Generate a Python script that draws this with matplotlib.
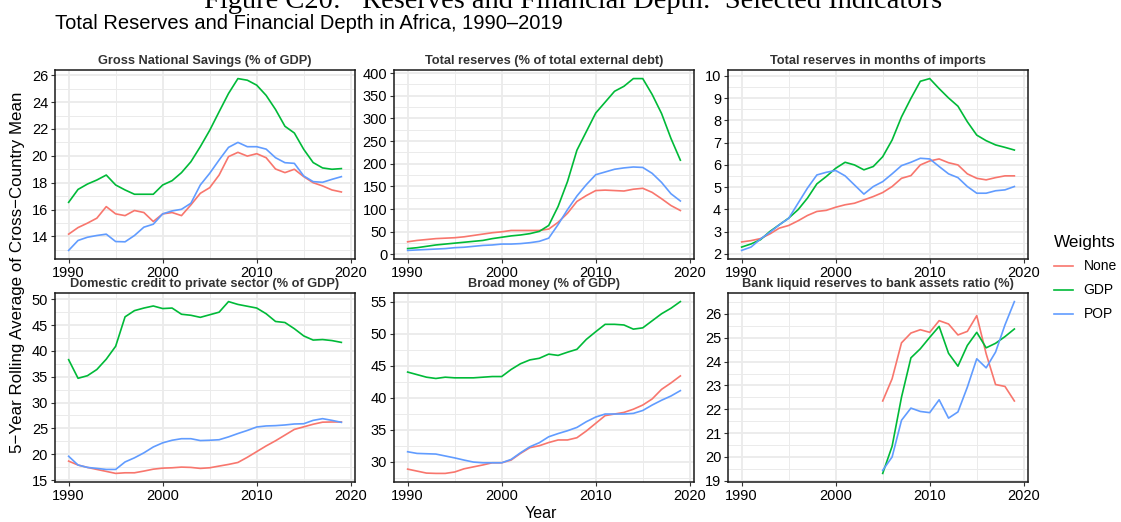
import matplotlib.pyplot as plt
import numpy as np
from matplotlib.lines import Line2D
from matplotlib.ticker import MultipleLocator

plt.rcParams["font.family"] = ["Liberation Sans", "DejaVu Sans"]

# ## Data (5-year rolling means of the cross-country average)

YEARS = list(range(1990, 2020))
LIQ_YEARS = list(range(2005, 2020))

GNS_NONE = [14.17, 14.66, 14.99, 15.36, 16.22, 15.68, 15.55, 15.93, 15.78, 15.11,
            15.68, 15.78, 15.55, 16.35, 17.21, 17.63, 18.57, 19.94, 20.26, 19.98,
            20.16, 19.86, 19.02, 18.75, 19.0, 18.45, 18.0, 17.76, 17.46, 17.31]
GNS_GDP = [16.54, 17.5, 17.9, 18.2, 18.57, 17.83, 17.46, 17.14, 17.14, 17.14,
           17.83, 18.15, 18.75, 19.56, 20.68, 21.9, 23.28, 24.64, 25.75, 25.63,
           25.26, 24.5, 23.45, 22.2, 21.7, 20.48, 19.5, 19.1, 19.0, 19.05]
GNS_POP = [12.96, 13.7, 13.94, 14.07, 14.17, 13.62, 13.6, 14.07, 14.69, 14.91,
           15.68, 15.9, 16.02, 16.47, 17.83, 18.7, 19.69, 20.63, 21.0, 20.68,
           20.68, 20.5, 19.86, 19.49, 19.44, 18.5, 18.08, 18.03, 18.25, 18.45]

RES_DEBT_NONE = [28, 31, 33, 35, 36, 37, 39, 42, 45, 48,
                 50, 53, 53, 53, 53, 56, 71, 91, 117, 130,
                 141, 142, 141, 140, 144, 146, 137, 123, 108, 97]
RES_DEBT_GDP = [13, 15, 18, 21, 23, 25, 27, 29, 31, 35,
                38, 41, 43, 46, 51, 64, 106, 161, 230, 271,
                312, 336, 360, 371, 388, 388, 353, 311, 256, 208]
RES_DEBT_POP = [9, 10, 11, 12, 13, 15, 16, 18, 20, 21,
                23, 23, 24, 26, 29, 36, 66, 99, 129, 154,
                176, 182, 188, 191, 193, 192, 179, 159, 134, 118]

RES_MONTHS_NONE = [2.54, 2.6, 2.69, 2.9, 3.16, 3.28, 3.49, 3.73, 3.91, 3.96,
                   4.1, 4.21, 4.28, 4.43, 4.58, 4.76, 5.03, 5.4, 5.52, 6.0,
                   6.18, 6.27, 6.1, 6.0, 5.6, 5.4, 5.33, 5.43, 5.51, 5.51]
RES_MONTHS_GDP = [2.31, 2.45, 2.64, 3.01, 3.31, 3.61, 3.99, 4.51, 5.15, 5.48,
                  5.85, 6.12, 6.0, 5.78, 5.93, 6.37, 7.12, 8.16, 8.99, 9.76,
                  9.88, 9.43, 9.01, 8.64, 7.94, 7.34, 7.09, 6.9, 6.79, 6.67]
RES_MONTHS_POP = [2.16, 2.31, 2.67, 2.97, 3.31, 3.6, 4.28, 4.96, 5.55, 5.67,
                  5.75, 5.51, 5.1, 4.69, 5.03, 5.25, 5.6, 5.97, 6.12, 6.3,
                  6.27, 5.93, 5.6, 5.43, 5.03, 4.73, 4.73, 4.84, 4.88, 5.03]

CREDIT_NONE = [18.66, 17.9, 17.44, 17.05, 16.67, 16.28, 16.4, 16.4, 16.73, 17.1,
               17.3, 17.37, 17.5, 17.44, 17.25, 17.37, 17.7, 18.02, 18.4, 19.4,
               20.5, 21.6, 22.6, 23.7, 24.8, 25.3, 25.8, 26.2, 26.24, 26.24]
CREDIT_GDP = [38.3, 34.7, 35.2, 36.4, 38.4, 40.9, 46.6, 47.8, 48.3, 48.7,
              48.2, 48.3, 47.1, 46.9, 46.5, 47.0, 47.5, 49.55, 49.0, 48.65,
              48.3, 47.2, 45.7, 45.5, 44.3, 42.9, 42.1, 42.2, 42.0, 41.65]
CREDIT_POP = [19.6, 17.9, 17.44, 17.25, 17.05, 17.05, 18.5, 19.3, 20.26, 21.4,
              22.2, 22.7, 23.0, 23.0, 22.64, 22.7, 22.8, 23.35, 24.0, 24.6,
              25.27, 25.47, 25.53, 25.66, 25.85, 25.9, 26.55, 26.88, 26.55, 26.17]

MONEY_NONE = [28.85, 28.54, 28.23, 28.18, 28.18, 28.4, 28.9, 29.2, 29.5, 29.84,
              29.84, 30.26, 31.3, 32.2, 32.5, 33.0, 33.4, 33.4, 33.75, 34.8,
              36.0, 37.2, 37.45, 37.7, 38.2, 38.85, 39.8, 41.3, 42.3, 43.4]
MONEY_GDP = [44.0, 43.6, 43.2, 43.0, 43.2, 43.1, 43.1, 43.1, 43.2, 43.3,
             43.3, 44.4, 45.3, 45.9, 46.15, 46.8, 46.6, 47.1, 47.55, 49.1,
             50.3, 51.45, 51.45, 51.35, 50.7, 50.9, 52.0, 53.1, 53.96, 55.0]
MONEY_POP = [31.56, 31.3, 31.25, 31.2, 30.9, 30.6, 30.26, 29.95, 29.84, 29.84,
             29.84, 30.36, 31.4, 32.34, 32.97, 33.9, 34.4, 34.84, 35.36, 36.25,
             36.98, 37.45, 37.45, 37.45, 37.55, 38.0, 38.85, 39.6, 40.26, 41.1]

LIQ_NONE = [22.35, 23.28, 24.79, 25.2, 25.34, 25.23, 25.72, 25.58, 25.12, 25.27,
            25.93, 24.33, 23.04, 22.96, 22.35]
LIQ_GDP = [19.31, 20.45, 22.51, 24.16, 24.54, 25.02, 25.48, 24.35, 23.81, 24.68,
           25.23, 24.58, 24.77, 25.05, 25.37]
LIQ_POP = [19.44, 20.0, 21.54, 22.05, 21.91, 21.86, 22.4, 21.63, 21.89, 22.93,
           24.12, 23.74, 24.4, 25.54, 26.52]

WEIGHTS = ["None", "GDP", "POP"]
COLORS = {"None": "#F8766D", "GDP": "#00BA38", "POP": "#619CFF"}

PANELS = [
    ("Gross National Savings (% of GDP)", YEARS, (GNS_NONE, GNS_GDP, GNS_POP), 2),
    ("Total reserves (% of total external debt)", YEARS,
     (RES_DEBT_NONE, RES_DEBT_GDP, RES_DEBT_POP), 50),
    ("Total reserves in months of imports", YEARS,
     (RES_MONTHS_NONE, RES_MONTHS_GDP, RES_MONTHS_POP), 1),
    ("Domestic credit to private sector (% of GDP)", YEARS,
     (CREDIT_NONE, CREDIT_GDP, CREDIT_POP), 5),
    ("Broad money (% of GDP)", YEARS, (MONEY_NONE, MONEY_GDP, MONEY_POP), 5),
    ("Bank liquid reserves to bank assets ratio (%)", LIQ_YEARS,
     (LIQ_NONE, LIQ_GDP, LIQ_POP), 1),
]

# ## Layout (pixel boxes of the panels on a 1121 x 522 canvas)

W, H = 1121, 522
COL_X = [(55, 355), (394, 694), (728, 1028)]
ROW_Y = [(70, 259), (293, 482)]
GRID_COLOR = "#EBEBEB"
X_LIM = (1990 - 0.05 * 29, 2019 + 0.05 * 29)


def panel_rect(row, col):
    x0, x1 = COL_X[col]
    y0, y1 = ROW_Y[row]
    return [x0 / W, 1 - y1 / H, (x1 - x0) / W, (y1 - y0) / H]


fig = plt.figure(figsize=(W / 100, H / 100), dpi=100)

for i, (title, years, series, step) in enumerate(PANELS):
    ax = fig.add_axes(panel_rect(i // 3, i % 3))
    for name, values in zip(WEIGHTS, series):
        ax.plot(years, values, color=COLORS[name], lw=1.2, zorder=3)

    ax.set_xlim(*X_LIM)
    ax.xaxis.set_major_locator(MultipleLocator(10))
    ax.xaxis.set_minor_locator(MultipleLocator(5))
    ax.yaxis.set_major_locator(MultipleLocator(step))
    ax.yaxis.set_minor_locator(MultipleLocator(step / 2))
    ax.grid(which="major", color=GRID_COLOR, lw=1.3, zorder=0)
    ax.grid(which="minor", color=GRID_COLOR, lw=0.7, zorder=0)
    ax.set_axisbelow(True)
    ax.tick_params(which="major", length=2.75, width=0.8, color="#333333",
                   labelsize=10.5, pad=2.2, labelcolor="black")
    ax.tick_params(which="minor", length=0)
    for spine in ax.spines.values():
        spine.set_color("#1a1a1a")
        spine.set_linewidth(1.1)
    ax.set_title(title, fontsize=9.2, fontweight="bold", color="#333333", pad=4)

# caption line of the source document, partly outside the canvas
fig.text(573 / W, 1 - 8 / H,
         "Figure C20:   Reserves and Financial Depth:  Selected Indicators",
         ha="center", va="baseline", fontsize=20.5, family="Liberation Serif")
fig.text(55 / W, 1 - 24 / H, "Total Reserves and Financial Depth in Africa, 1990\u20132019",
         ha="left", va="center", fontsize=14.5)
fig.text(18 / W, 1 - 272 / H, "5\u2212Year Rolling Average of Cross\u2212Country Mean",
         ha="center", va="center", rotation=90, fontsize=12.2)
fig.text(541 / W, 1 - 514 / H, "Year", ha="center", va="center", fontsize=11.5)

handles = [Line2D([], [], color=COLORS[name], lw=1.2) for name in WEIGHTS]
fig.legend(handles, WEIGHTS, title="Weights", loc="upper left",
           bbox_to_anchor=(1041 / W, 1 - 222 / H), frameon=False,
           fontsize=10, title_fontsize=12.3, handlelength=1.37,
           handletextpad=0.8, labelspacing=0.72, alignment="left")

fig.savefig("out.png", dpi=100, facecolor="white")
